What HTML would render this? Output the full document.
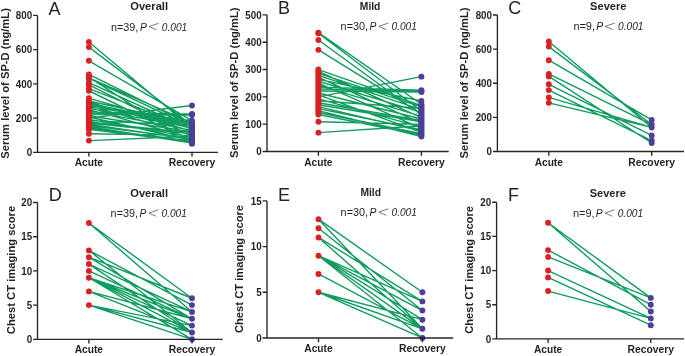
<!DOCTYPE html>
<html><head><meta charset="utf-8"><style>
html,body{margin:0;padding:0;background:#fff;}
svg{display:block;will-change:transform;}
text{font-family:"Liberation Sans", sans-serif;fill:#231f20;}
.tk{font-size:10px;font-weight:bold;}
.xl{font-size:10px;font-weight:bold;}
.lt{font-size:18px;}
.tt{font-size:11px;font-weight:bold;}
.an{font-size:10.3px;fill:#1e1e1e;}
.it{font-style:italic;}
.yt{font-size:10px;font-weight:bold;}
.yt2{font-size:11.5px;font-weight:bold;}
</style></head><body>
<svg width="685" height="356" viewBox="0 0 685 356">
<rect width="685" height="356" fill="#fff"/>
<path d="M88.90 77.91L192.00 122.77M88.90 78.25L192.00 126.99M88.90 82.53L192.00 129.50M88.90 88.69L192.00 128.66M88.90 133.73L192.00 135.41M88.90 140.58L192.00 136.25M88.90 112.05L192.00 114.04M88.90 113.27L192.00 114.55M88.90 114.50L192.00 115.07M88.90 118.17L192.00 105.48M88.90 107.16L192.00 120.72M88.90 101.03L192.00 123.61M88.90 102.26L192.00 131.20M88.90 103.47L192.00 124.45M88.90 104.71L192.00 126.15M88.90 105.92L192.00 134.56M88.90 108.37L192.00 127.83M88.90 109.60L192.00 137.93M88.90 110.82L192.00 130.34M88.90 115.72L192.00 132.04M88.90 116.95L192.00 140.45M88.90 119.40L192.00 137.09M88.90 120.62L192.00 125.31M88.90 121.85L192.00 132.88M88.90 123.06L192.00 133.72M88.90 124.30L192.00 139.61M88.90 125.51L192.00 138.77M88.90 126.75L192.00 142.98M88.90 127.96L192.00 141.30M88.90 129.20L192.00 142.14M88.90 41.94L192.00 128.25M88.90 47.08L192.00 125.34M88.90 60.78L192.00 120.72M88.90 74.48L192.00 125.34M88.90 77.05L192.00 143.84M88.90 84.93L192.00 136.30M88.90 90.75L192.00 141.44M88.90 98.11L192.00 128.25M88.90 103.59L192.00 128.25" stroke="#0f9c5e" stroke-width="1.4" fill="none"/>
<g fill="#dc1f22"><circle cx="88.90" cy="140.58" r="2.95"/><circle cx="88.90" cy="133.73" r="2.95"/><circle cx="88.90" cy="129.20" r="2.95"/><circle cx="88.90" cy="127.96" r="2.95"/><circle cx="88.90" cy="126.75" r="2.95"/><circle cx="88.90" cy="125.51" r="2.95"/><circle cx="88.90" cy="124.30" r="2.95"/><circle cx="88.90" cy="123.06" r="2.95"/><circle cx="88.90" cy="121.85" r="2.95"/><circle cx="88.90" cy="120.62" r="2.95"/><circle cx="88.90" cy="119.40" r="2.95"/><circle cx="88.90" cy="118.17" r="2.95"/><circle cx="88.90" cy="116.95" r="2.95"/><circle cx="88.90" cy="115.72" r="2.95"/><circle cx="88.90" cy="114.50" r="2.95"/><circle cx="88.90" cy="113.27" r="2.95"/><circle cx="88.90" cy="112.05" r="2.95"/><circle cx="88.90" cy="110.82" r="2.95"/><circle cx="88.90" cy="109.60" r="2.95"/><circle cx="88.90" cy="108.37" r="2.95"/><circle cx="88.90" cy="107.16" r="2.95"/><circle cx="88.90" cy="105.92" r="2.95"/><circle cx="88.90" cy="104.71" r="2.95"/><circle cx="88.90" cy="103.59" r="2.95"/><circle cx="88.90" cy="103.47" r="2.95"/><circle cx="88.90" cy="102.26" r="2.95"/><circle cx="88.90" cy="101.03" r="2.95"/><circle cx="88.90" cy="98.11" r="2.95"/><circle cx="88.90" cy="90.75" r="2.95"/><circle cx="88.90" cy="88.69" r="2.95"/><circle cx="88.90" cy="84.93" r="2.95"/><circle cx="88.90" cy="82.53" r="2.95"/><circle cx="88.90" cy="78.25" r="2.95"/><circle cx="88.90" cy="77.91" r="2.95"/><circle cx="88.90" cy="77.05" r="2.95"/><circle cx="88.90" cy="74.48" r="2.95"/><circle cx="88.90" cy="60.78" r="2.95"/><circle cx="88.90" cy="47.08" r="2.95"/><circle cx="88.90" cy="41.94" r="2.95"/></g>
<g fill="#4d3e9a"><circle cx="192.00" cy="143.84" r="2.95"/><circle cx="192.00" cy="142.98" r="2.95"/><circle cx="192.00" cy="142.14" r="2.95"/><circle cx="192.00" cy="141.44" r="2.95"/><circle cx="192.00" cy="141.30" r="2.95"/><circle cx="192.00" cy="140.45" r="2.95"/><circle cx="192.00" cy="139.61" r="2.95"/><circle cx="192.00" cy="138.77" r="2.95"/><circle cx="192.00" cy="137.93" r="2.95"/><circle cx="192.00" cy="137.09" r="2.95"/><circle cx="192.00" cy="136.30" r="2.95"/><circle cx="192.00" cy="136.25" r="2.95"/><circle cx="192.00" cy="135.41" r="2.95"/><circle cx="192.00" cy="134.56" r="2.95"/><circle cx="192.00" cy="133.72" r="2.95"/><circle cx="192.00" cy="132.88" r="2.95"/><circle cx="192.00" cy="132.04" r="2.95"/><circle cx="192.00" cy="131.20" r="2.95"/><circle cx="192.00" cy="130.34" r="2.95"/><circle cx="192.00" cy="129.50" r="2.95"/><circle cx="192.00" cy="128.66" r="2.95"/><circle cx="192.00" cy="128.25" r="2.95"/><circle cx="192.00" cy="127.83" r="2.95"/><circle cx="192.00" cy="126.99" r="2.95"/><circle cx="192.00" cy="126.15" r="2.95"/><circle cx="192.00" cy="125.34" r="2.95"/><circle cx="192.00" cy="125.31" r="2.95"/><circle cx="192.00" cy="124.45" r="2.95"/><circle cx="192.00" cy="123.61" r="2.95"/><circle cx="192.00" cy="122.77" r="2.95"/><circle cx="192.00" cy="120.72" r="2.95"/><circle cx="192.00" cy="115.07" r="2.95"/><circle cx="192.00" cy="114.55" r="2.95"/><circle cx="192.00" cy="114.04" r="2.95"/><circle cx="192.00" cy="105.48" r="2.95"/></g>
<text x="32.10" y="156.15" class="tk" textLength="5.45" lengthAdjust="spacingAndGlyphs" text-anchor="end">0</text>
<text x="32.10" y="121.90" class="tk" textLength="16.35" lengthAdjust="spacingAndGlyphs" text-anchor="end">200</text>
<text x="32.10" y="87.65" class="tk" textLength="16.35" lengthAdjust="spacingAndGlyphs" text-anchor="end">400</text>
<text x="32.10" y="53.40" class="tk" textLength="16.35" lengthAdjust="spacingAndGlyphs" text-anchor="end">600</text>
<text x="32.10" y="19.15" class="tk" textLength="16.35" lengthAdjust="spacingAndGlyphs" text-anchor="end">800</text>
<path d="M37.5 15.4V152.4H218.0M33.10 152.40H37.5M33.10 118.15H37.5M33.10 83.90H37.5M33.10 49.65H37.5M33.10 15.40H37.5M88.9 152.4V156.6M192.0 152.4V156.6" stroke="#2a2223" stroke-width="1.35" fill="none"/>
<text x="88.90" y="166.00" class="xl" textLength="28.3" lengthAdjust="spacingAndGlyphs" text-anchor="middle">Acute</text>
<text x="192.00" y="166.00" class="xl" textLength="46.7" lengthAdjust="spacingAndGlyphs" text-anchor="middle">Recovery</text>
<text x="48.50" y="14.60" class="lt">A</text>
<text x="130.20" y="10.00" class="tt" textLength="37.9" lengthAdjust="spacingAndGlyphs">Overall</text>
<text x="110.90" y="30.60" class="an" textLength="27.47" lengthAdjust="spacingAndGlyphs">n=39,</text>
<text x="139.90" y="30.60" class="an it">P</text>
<path d="M158.60 23.30L149.10 26.50L156.40 29.80" stroke="#555" stroke-width="0.8" fill="none"/>
<text x="161.80" y="30.60" class="an it" textLength="25.37" lengthAdjust="spacingAndGlyphs">0.001</text>
<text transform="translate(8.8 158.8) rotate(-90)" class="yt" textLength="150.7" lengthAdjust="spacingAndGlyphs">Serum level of SP-D (ng/mL)</text>
<path d="M318.40 32.66L421.40 104.24M318.40 33.20L421.40 110.96M318.40 40.03L421.40 114.97M318.40 49.87L421.40 113.63M318.40 121.72L421.40 124.40M318.40 132.65L421.40 125.74M318.40 87.13L421.40 90.30M318.40 89.07L421.40 91.12M318.40 91.04L421.40 91.94M318.40 96.89L421.40 76.64M318.40 79.32L421.40 100.96M318.40 69.54L421.40 105.58M318.40 71.51L421.40 117.68M318.40 73.45L421.40 106.91M318.40 75.41L421.40 109.62M318.40 77.35L421.40 123.03M318.40 81.26L421.40 112.30M318.40 83.23L421.40 128.41M318.40 85.17L421.40 116.31M318.40 92.98L421.40 119.02M318.40 94.95L421.40 132.43M318.40 98.85L421.40 127.08M318.40 100.79L421.40 108.28M318.40 102.76L421.40 120.36M318.40 104.70L421.40 121.69M318.40 106.67L421.40 131.09M318.40 108.61L421.40 129.75M318.40 110.57L421.40 136.47M318.40 112.51L421.40 133.80M318.40 114.48L421.40 135.14" stroke="#0f9c5e" stroke-width="1.4" fill="none"/>
<g fill="#dc1f22"><circle cx="318.40" cy="132.65" r="2.95"/><circle cx="318.40" cy="121.72" r="2.95"/><circle cx="318.40" cy="114.48" r="2.95"/><circle cx="318.40" cy="112.51" r="2.95"/><circle cx="318.40" cy="110.57" r="2.95"/><circle cx="318.40" cy="108.61" r="2.95"/><circle cx="318.40" cy="106.67" r="2.95"/><circle cx="318.40" cy="104.70" r="2.95"/><circle cx="318.40" cy="102.76" r="2.95"/><circle cx="318.40" cy="100.79" r="2.95"/><circle cx="318.40" cy="98.85" r="2.95"/><circle cx="318.40" cy="96.89" r="2.95"/><circle cx="318.40" cy="94.95" r="2.95"/><circle cx="318.40" cy="92.98" r="2.95"/><circle cx="318.40" cy="91.04" r="2.95"/><circle cx="318.40" cy="89.07" r="2.95"/><circle cx="318.40" cy="87.13" r="2.95"/><circle cx="318.40" cy="85.17" r="2.95"/><circle cx="318.40" cy="83.23" r="2.95"/><circle cx="318.40" cy="81.26" r="2.95"/><circle cx="318.40" cy="79.32" r="2.95"/><circle cx="318.40" cy="77.35" r="2.95"/><circle cx="318.40" cy="75.41" r="2.95"/><circle cx="318.40" cy="73.45" r="2.95"/><circle cx="318.40" cy="71.51" r="2.95"/><circle cx="318.40" cy="69.54" r="2.95"/><circle cx="318.40" cy="49.87" r="2.95"/><circle cx="318.40" cy="40.03" r="2.95"/><circle cx="318.40" cy="33.20" r="2.95"/><circle cx="318.40" cy="32.66" r="2.95"/></g>
<g fill="#4d3e9a"><circle cx="421.40" cy="136.47" r="2.95"/><circle cx="421.40" cy="135.14" r="2.95"/><circle cx="421.40" cy="133.80" r="2.95"/><circle cx="421.40" cy="132.43" r="2.95"/><circle cx="421.40" cy="131.09" r="2.95"/><circle cx="421.40" cy="129.75" r="2.95"/><circle cx="421.40" cy="128.41" r="2.95"/><circle cx="421.40" cy="127.08" r="2.95"/><circle cx="421.40" cy="125.74" r="2.95"/><circle cx="421.40" cy="124.40" r="2.95"/><circle cx="421.40" cy="123.03" r="2.95"/><circle cx="421.40" cy="121.69" r="2.95"/><circle cx="421.40" cy="120.36" r="2.95"/><circle cx="421.40" cy="119.02" r="2.95"/><circle cx="421.40" cy="117.68" r="2.95"/><circle cx="421.40" cy="116.31" r="2.95"/><circle cx="421.40" cy="114.97" r="2.95"/><circle cx="421.40" cy="113.63" r="2.95"/><circle cx="421.40" cy="112.30" r="2.95"/><circle cx="421.40" cy="110.96" r="2.95"/><circle cx="421.40" cy="109.62" r="2.95"/><circle cx="421.40" cy="108.28" r="2.95"/><circle cx="421.40" cy="106.91" r="2.95"/><circle cx="421.40" cy="105.58" r="2.95"/><circle cx="421.40" cy="104.24" r="2.95"/><circle cx="421.40" cy="100.96" r="2.95"/><circle cx="421.40" cy="91.94" r="2.95"/><circle cx="421.40" cy="91.12" r="2.95"/><circle cx="421.40" cy="90.30" r="2.95"/><circle cx="421.40" cy="76.64" r="2.95"/></g>
<text x="261.60" y="155.25" class="tk" textLength="5.45" lengthAdjust="spacingAndGlyphs" text-anchor="end">0</text>
<text x="261.60" y="127.93" class="tk" textLength="16.35" lengthAdjust="spacingAndGlyphs" text-anchor="end">100</text>
<text x="261.60" y="100.61" class="tk" textLength="16.35" lengthAdjust="spacingAndGlyphs" text-anchor="end">200</text>
<text x="261.60" y="73.29" class="tk" textLength="16.35" lengthAdjust="spacingAndGlyphs" text-anchor="end">300</text>
<text x="261.60" y="45.97" class="tk" textLength="16.35" lengthAdjust="spacingAndGlyphs" text-anchor="end">400</text>
<text x="261.60" y="18.65" class="tk" textLength="16.35" lengthAdjust="spacingAndGlyphs" text-anchor="end">500</text>
<path d="M267.0 14.9V151.5H448.7M262.60 151.50H267.0M262.60 124.18H267.0M262.60 96.86H267.0M262.60 69.54H267.0M262.60 42.22H267.0M262.60 14.90H267.0M318.4 151.5V155.7M421.4 151.5V155.7" stroke="#2a2223" stroke-width="1.35" fill="none"/>
<text x="318.40" y="166.00" class="xl" textLength="28.3" lengthAdjust="spacingAndGlyphs" text-anchor="middle">Acute</text>
<text x="421.40" y="166.00" class="xl" textLength="46.7" lengthAdjust="spacingAndGlyphs" text-anchor="middle">Recovery</text>
<text x="278.00" y="14.00" class="lt">B</text>
<text x="359.80" y="9.70" class="tt" textLength="20.6" lengthAdjust="spacingAndGlyphs">Mild</text>
<text x="340.60" y="30.40" class="an" textLength="27.47" lengthAdjust="spacingAndGlyphs">n=30,</text>
<text x="369.60" y="30.40" class="an it">P</text>
<path d="M388.30 23.10L378.80 26.30L386.10 29.60" stroke="#555" stroke-width="0.8" fill="none"/>
<text x="391.50" y="30.40" class="an it" textLength="25.37" lengthAdjust="spacingAndGlyphs">0.001</text>
<text transform="translate(237.8 158.0) rotate(-90)" class="yt" textLength="150.5" lengthAdjust="spacingAndGlyphs">Serum level of SP-D (ng/mL)</text>
<path d="M548.80 41.45L651.70 127.44M548.80 46.57L651.70 124.54M548.80 60.22L651.70 119.93M548.80 73.87L651.70 124.54M548.80 76.42L651.70 142.97M548.80 84.27L651.70 135.46M548.80 90.08L651.70 140.58M548.80 97.41L651.70 127.44M548.80 102.87L651.70 127.44" stroke="#0f9c5e" stroke-width="1.4" fill="none"/>
<g fill="#dc1f22"><circle cx="548.80" cy="102.87" r="2.95"/><circle cx="548.80" cy="97.41" r="2.95"/><circle cx="548.80" cy="90.08" r="2.95"/><circle cx="548.80" cy="84.27" r="2.95"/><circle cx="548.80" cy="76.42" r="2.95"/><circle cx="548.80" cy="73.87" r="2.95"/><circle cx="548.80" cy="60.22" r="2.95"/><circle cx="548.80" cy="46.57" r="2.95"/><circle cx="548.80" cy="41.45" r="2.95"/></g>
<g fill="#4d3e9a"><circle cx="651.70" cy="142.97" r="2.95"/><circle cx="651.70" cy="140.58" r="2.95"/><circle cx="651.70" cy="135.46" r="2.95"/><circle cx="651.70" cy="127.44" r="2.95"/><circle cx="651.70" cy="124.54" r="2.95"/><circle cx="651.70" cy="119.93" r="2.95"/></g>
<text x="492.00" y="155.25" class="tk" textLength="5.45" lengthAdjust="spacingAndGlyphs" text-anchor="end">0</text>
<text x="492.00" y="121.12" class="tk" textLength="16.35" lengthAdjust="spacingAndGlyphs" text-anchor="end">200</text>
<text x="492.00" y="87.00" class="tk" textLength="16.35" lengthAdjust="spacingAndGlyphs" text-anchor="end">400</text>
<text x="492.00" y="52.88" class="tk" textLength="16.35" lengthAdjust="spacingAndGlyphs" text-anchor="end">600</text>
<text x="492.00" y="18.75" class="tk" textLength="16.35" lengthAdjust="spacingAndGlyphs" text-anchor="end">800</text>
<path d="M497.4 15.0V151.5H684.0M493.00 151.50H497.4M493.00 117.38H497.4M493.00 83.25H497.4M493.00 49.12H497.4M493.00 15.00H497.4M548.8 151.5V155.7M651.7 151.5V155.7" stroke="#2a2223" stroke-width="1.35" fill="none"/>
<text x="548.80" y="166.00" class="xl" textLength="28.3" lengthAdjust="spacingAndGlyphs" text-anchor="middle">Acute</text>
<text x="651.70" y="166.00" class="xl" textLength="46.7" lengthAdjust="spacingAndGlyphs" text-anchor="middle">Recovery</text>
<text x="508.20" y="14.40" class="lt">C</text>
<text x="590.10" y="9.70" class="tt" textLength="36.3" lengthAdjust="spacingAndGlyphs">Severe</text>
<text x="573.40" y="30.40" class="an" textLength="21.6" lengthAdjust="spacingAndGlyphs">n=9,</text>
<text x="596.20" y="30.40" class="an it">P</text>
<path d="M614.90 23.10L605.40 26.30L612.70 29.60" stroke="#555" stroke-width="0.8" fill="none"/>
<text x="618.10" y="30.40" class="an it" textLength="25.37" lengthAdjust="spacingAndGlyphs">0.001</text>
<text transform="translate(468.3 158.4) rotate(-90)" class="yt" textLength="151.0" lengthAdjust="spacingAndGlyphs">Serum level of SP-D (ng/mL)</text>
<path d="M88.90 250.38L192.00 305.10M88.90 250.38L192.00 332.46M88.90 257.22L192.00 318.78M88.90 264.06L192.00 311.94M88.90 264.06L192.00 332.46M88.90 277.74L192.00 311.94M88.90 277.74L192.00 318.78M88.90 277.74L192.00 325.62M88.90 277.74L192.00 332.46M88.90 277.74L192.00 339.30M88.90 291.42L192.00 332.46M88.90 305.10L192.00 325.62M88.90 305.10L192.00 332.46M88.90 305.10L192.00 339.30M88.90 223.02L192.00 298.26M88.90 223.02L192.00 311.94M88.90 257.22L192.00 298.26M88.90 270.90L192.00 318.78M88.90 291.42L192.00 318.78" stroke="#0f9c5e" stroke-width="1.4" fill="none"/>
<g fill="#dc1f22"><circle cx="88.90" cy="305.10" r="2.95"/><circle cx="88.90" cy="291.42" r="2.95"/><circle cx="88.90" cy="277.74" r="2.95"/><circle cx="88.90" cy="270.90" r="2.95"/><circle cx="88.90" cy="264.06" r="2.95"/><circle cx="88.90" cy="257.22" r="2.95"/><circle cx="88.90" cy="250.38" r="2.95"/><circle cx="88.90" cy="223.02" r="2.95"/></g>
<g fill="#4d3e9a"><circle cx="192.00" cy="339.30" r="2.95"/><circle cx="192.00" cy="332.46" r="2.95"/><circle cx="192.00" cy="325.62" r="2.95"/><circle cx="192.00" cy="318.78" r="2.95"/><circle cx="192.00" cy="311.94" r="2.95"/><circle cx="192.00" cy="305.10" r="2.95"/><circle cx="192.00" cy="298.26" r="2.95"/></g>
<text x="32.10" y="343.05" class="tk" textLength="5.45" lengthAdjust="spacingAndGlyphs" text-anchor="end">0</text>
<text x="32.10" y="308.85" class="tk" textLength="5.45" lengthAdjust="spacingAndGlyphs" text-anchor="end">5</text>
<text x="32.10" y="274.65" class="tk" textLength="10.9" lengthAdjust="spacingAndGlyphs" text-anchor="end">10</text>
<text x="32.10" y="240.45" class="tk" textLength="10.9" lengthAdjust="spacingAndGlyphs" text-anchor="end">15</text>
<text x="32.10" y="206.25" class="tk" textLength="10.9" lengthAdjust="spacingAndGlyphs" text-anchor="end">20</text>
<path d="M37.5 202.5V339.3H222.7M33.10 339.30H37.5M33.10 305.10H37.5M33.10 270.90H37.5M33.10 236.70H37.5M33.10 202.50H37.5M88.9 339.3V343.5M192.0 339.3V343.5" stroke="#2a2223" stroke-width="1.35" fill="none"/>
<text x="88.90" y="353.00" class="xl" textLength="28.3" lengthAdjust="spacingAndGlyphs" text-anchor="middle">Acute</text>
<text x="192.00" y="353.00" class="xl" textLength="46.7" lengthAdjust="spacingAndGlyphs" text-anchor="middle">Recovery</text>
<text x="48.80" y="201.40" class="lt">D</text>
<text x="130.20" y="197.20" class="tt" textLength="37.9" lengthAdjust="spacingAndGlyphs">Overall</text>
<text x="110.60" y="217.10" class="an" textLength="27.47" lengthAdjust="spacingAndGlyphs">n=39,</text>
<text x="139.60" y="217.10" class="an it">P</text>
<path d="M158.30 209.80L148.80 213.00L156.10 216.30" stroke="#555" stroke-width="0.8" fill="none"/>
<text x="161.50" y="217.10" class="an it" textLength="25.37" lengthAdjust="spacingAndGlyphs">0.001</text>
<text transform="translate(14.7 334.2) rotate(-90)" class="yt2" textLength="128.4" lengthAdjust="spacingAndGlyphs">Chest CT imaging score</text>
<path d="M318.50 219.17L422.40 292.27M318.50 219.17L422.40 328.81M318.50 228.31L422.40 310.54M318.50 237.45L422.40 301.40M318.50 237.45L422.40 328.81M318.50 255.72L422.40 301.40M318.50 255.72L422.40 310.54M318.50 255.72L422.40 319.68M318.50 255.72L422.40 328.81M318.50 255.72L422.40 337.95M318.50 273.99L422.40 328.81M318.50 292.27L422.40 319.68M318.50 292.27L422.40 328.81M318.50 292.27L422.40 337.95" stroke="#0f9c5e" stroke-width="1.4" fill="none"/>
<g fill="#dc1f22"><circle cx="318.50" cy="292.27" r="2.95"/><circle cx="318.50" cy="273.99" r="2.95"/><circle cx="318.50" cy="255.72" r="2.95"/><circle cx="318.50" cy="237.45" r="2.95"/><circle cx="318.50" cy="228.31" r="2.95"/><circle cx="318.50" cy="219.17" r="2.95"/></g>
<g fill="#4d3e9a"><circle cx="422.40" cy="337.95" r="2.95"/><circle cx="422.40" cy="328.81" r="2.95"/><circle cx="422.40" cy="319.68" r="2.95"/><circle cx="422.40" cy="310.54" r="2.95"/><circle cx="422.40" cy="301.40" r="2.95"/><circle cx="422.40" cy="292.27" r="2.95"/></g>
<text x="261.60" y="341.70" class="tk" textLength="5.45" lengthAdjust="spacingAndGlyphs" text-anchor="end">0</text>
<text x="261.60" y="296.02" class="tk" textLength="5.45" lengthAdjust="spacingAndGlyphs" text-anchor="end">5</text>
<text x="261.60" y="250.33" class="tk" textLength="10.9" lengthAdjust="spacingAndGlyphs" text-anchor="end">10</text>
<text x="261.60" y="204.65" class="tk" textLength="10.9" lengthAdjust="spacingAndGlyphs" text-anchor="end">15</text>
<path d="M267.0 200.9V337.95H453.2M262.60 337.95H267.0M262.60 292.27H267.0M262.60 246.58H267.0M262.60 200.90H267.0M318.5 337.95V342.15M422.4 337.95V342.15" stroke="#2a2223" stroke-width="1.35" fill="none"/>
<text x="318.50" y="352.00" class="xl" textLength="28.3" lengthAdjust="spacingAndGlyphs" text-anchor="middle">Acute</text>
<text x="422.40" y="352.00" class="xl" textLength="46.7" lengthAdjust="spacingAndGlyphs" text-anchor="middle">Recovery</text>
<text x="278.00" y="200.50" class="lt">E</text>
<text x="360.40" y="195.80" class="tt" textLength="20.6" lengthAdjust="spacingAndGlyphs">Mild</text>
<text x="340.60" y="216.10" class="an" textLength="27.47" lengthAdjust="spacingAndGlyphs">n=30,</text>
<text x="369.60" y="216.10" class="an it">P</text>
<path d="M388.30 208.80L378.80 212.00L386.10 215.30" stroke="#555" stroke-width="0.8" fill="none"/>
<text x="391.50" y="216.10" class="an it" textLength="25.37" lengthAdjust="spacingAndGlyphs">0.001</text>
<text transform="translate(243.1 333.1) rotate(-90)" class="yt2" textLength="128.2" lengthAdjust="spacingAndGlyphs">Chest CT imaging score</text>
<path d="M548.10 222.75L650.80 297.90M548.10 222.75L650.80 311.57M548.10 250.08L650.80 304.74M548.10 256.91L650.80 297.90M548.10 270.57L650.80 318.40M548.10 277.41L650.80 325.23M548.10 291.07L650.80 318.40" stroke="#0f9c5e" stroke-width="1.4" fill="none"/>
<g fill="#dc1f22"><circle cx="548.10" cy="291.07" r="2.95"/><circle cx="548.10" cy="277.41" r="2.95"/><circle cx="548.10" cy="270.57" r="2.95"/><circle cx="548.10" cy="256.91" r="2.95"/><circle cx="548.10" cy="250.08" r="2.95"/><circle cx="548.10" cy="222.75" r="2.95"/></g>
<g fill="#4d3e9a"><circle cx="650.80" cy="325.23" r="2.95"/><circle cx="650.80" cy="318.40" r="2.95"/><circle cx="650.80" cy="311.57" r="2.95"/><circle cx="650.80" cy="304.74" r="2.95"/><circle cx="650.80" cy="297.90" r="2.95"/></g>
<text x="491.20" y="342.65" class="tk" textLength="5.45" lengthAdjust="spacingAndGlyphs" text-anchor="end">0</text>
<text x="491.20" y="308.49" class="tk" textLength="5.45" lengthAdjust="spacingAndGlyphs" text-anchor="end">5</text>
<text x="491.20" y="274.32" class="tk" textLength="10.9" lengthAdjust="spacingAndGlyphs" text-anchor="end">10</text>
<text x="491.20" y="240.16" class="tk" textLength="10.9" lengthAdjust="spacingAndGlyphs" text-anchor="end">15</text>
<text x="491.20" y="206.00" class="tk" textLength="10.9" lengthAdjust="spacingAndGlyphs" text-anchor="end">20</text>
<path d="M496.6 202.25V338.9H684.0M492.20 338.90H496.6M492.20 304.74H496.6M492.20 270.57H496.6M492.20 236.41H496.6M492.20 202.25H496.6M548.1 338.9V343.09999999999997M650.8 338.9V343.09999999999997" stroke="#2a2223" stroke-width="1.35" fill="none"/>
<text x="548.10" y="353.00" class="xl" textLength="28.3" lengthAdjust="spacingAndGlyphs" text-anchor="middle">Acute</text>
<text x="650.80" y="353.00" class="xl" textLength="46.7" lengthAdjust="spacingAndGlyphs" text-anchor="middle">Recovery</text>
<text x="508.00" y="201.40" class="lt">F</text>
<text x="589.70" y="196.90" class="tt" textLength="36.2" lengthAdjust="spacingAndGlyphs">Severe</text>
<text x="573.00" y="217.10" class="an" textLength="21.6" lengthAdjust="spacingAndGlyphs">n=9,</text>
<text x="595.80" y="217.10" class="an it">P</text>
<path d="M614.50 209.80L605.00 213.00L612.30 216.30" stroke="#555" stroke-width="0.8" fill="none"/>
<text x="617.70" y="217.10" class="an it" textLength="25.37" lengthAdjust="spacingAndGlyphs">0.001</text>
<text transform="translate(473.4 333.8) rotate(-90)" class="yt2" textLength="127.8" lengthAdjust="spacingAndGlyphs">Chest CT imaging score</text>
</svg>
</body></html>
